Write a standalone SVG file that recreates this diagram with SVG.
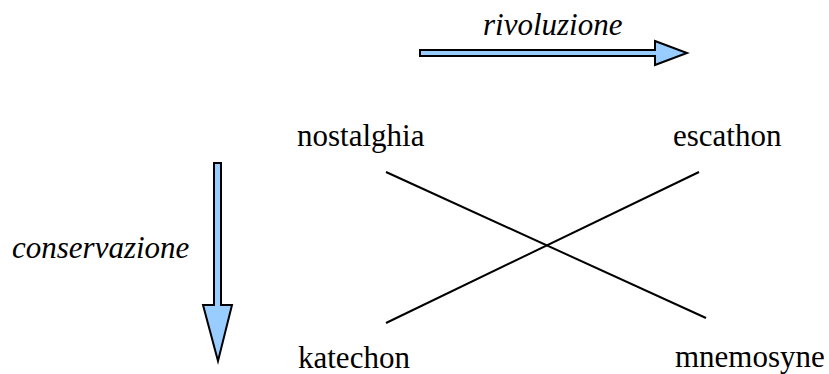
<svg xmlns="http://www.w3.org/2000/svg" width="829" height="374" viewBox="0 0 829 374">
<style>
.t{font-family:'Liberation Serif','Times New Roman',Times,serif;font-size:31px;fill:#000}
.i{font-style:italic}
.arr{fill:#99ccff;stroke:#000;stroke-width:2;stroke-linejoin:miter}
.ln{stroke:#000;stroke-width:2;fill:none}
</style>
<rect width="829" height="374" fill="#fff"/>
<g id="rivoluzione">
<path class="arr" d="M420,50 H655 V41 L687,53 L655,65 V56 H420 Z"/>
<text class="t i" x="483" y="35">rivoluzione</text>
</g>
<g id="conservazione">
<path class="arr" d="M214,163 H221 V305 H232 L218,361 L203,305 H214 Z"/>
<text class="t i" x="12" y="258">conservazione</text>
</g>
<g id="nostalghia"><text class="t" x="297" y="146">nostalghia</text></g>
<g id="escathon"><text class="t" x="673" y="146">escathon</text></g>
<g id="katechon"><text class="t" x="298" y="368">katechon</text></g>
<g id="mnemosyne"><text class="t" x="675" y="367">mnemosyne</text></g>
<g id="connectors">
<line class="ln" x1="386" y1="172" x2="706" y2="318"/>
<line class="ln" x1="386" y1="323" x2="699" y2="172"/>
</g>
</svg>
